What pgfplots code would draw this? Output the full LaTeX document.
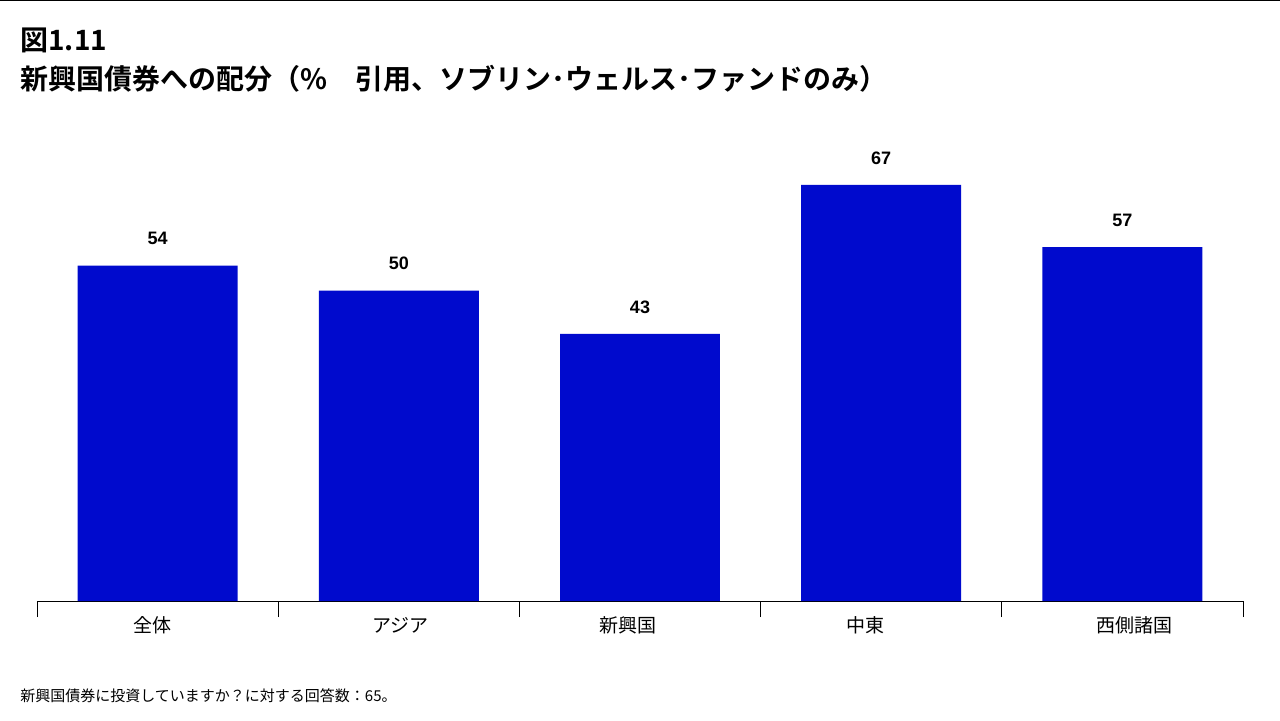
\documentclass[border=0pt]{standalone}
\usepackage{pgfplots}
\pgfplotsset{compat=1.18}
\usepackage{fontspec}
\setmainfont{Liberation Sans}
\newfontfamily\jpfont{Noto Sans CJK JP}
\newfontfamily\jpbold{Noto Sans CJK JP Bold}
\definecolor{barblue}{RGB}{0,10,205}
\begin{document}
\begin{tikzpicture}[x=1pt,y=1pt]
\path[use as bounding box] (0,0) rectangle (640,360);
\draw[line width=0.6pt] (0,359.7) -- (640,359.7);
\node[anchor=base west,inner sep=0,font=\jpbold\fontsize{14}{16}\selectfont] at (10,335) {図1.11};
\node[anchor=base west,inner sep=0,font=\jpbold\fontsize{14}{16}\selectfont] at (10,315.5) {新興国債券への配分（\%　引用、ソブリン･ウェルス･ファンドのみ）};
\node[anchor=base west,inner sep=0,font=\jpfont\fontsize{7.5}{9}\selectfont] at (10,9.5) {新興国債券に投資していますか？に対する回答数：65。};
\begin{axis}[
    at={(18.5pt,59.5pt)}, anchor=south west,
    scale only axis, width=603pt, height=217.35pt,
    xmin=-0.5, xmax=4.5, ymin=0, ymax=70,
    axis y line=none,
    axis x line*=bottom,
    x axis line style={line width=0.5pt, -},
    xtick={0,1,2,3,4},
    xticklabels={{\kern-5pt 全体},{\kern2pt アジア},{\kern-12pt 新興国},{\kern-16pt 中東},{\kern12pt 西側諸国}},
    major tick length=0pt,
    extra x ticks={-0.5,0.5,1.5,2.5,3.5,4.5},
    extra x tick labels={},
    extra x tick style={major tick length=8pt, tick style={line width=0.5pt, black}, tick align=outside},
    xticklabel style={font=\jpfont\fontsize{9.5}{11}\selectfont, anchor=center, yshift=-12pt},
    ybar, bar width=0.663,
    nodes near coords,
    /pgf/number format/assume math mode=true,
    every node near coord/.append style={font=\bfseries\fontsize{9}{11}\selectfont, anchor=center, yshift=13.5pt},
    clip=false,
]
\addplot[fill=barblue, draw=none] coordinates {(0,54) (1,50) (2,43) (3,67) (4,57)};
\end{axis}
\end{tikzpicture}
\end{document}
